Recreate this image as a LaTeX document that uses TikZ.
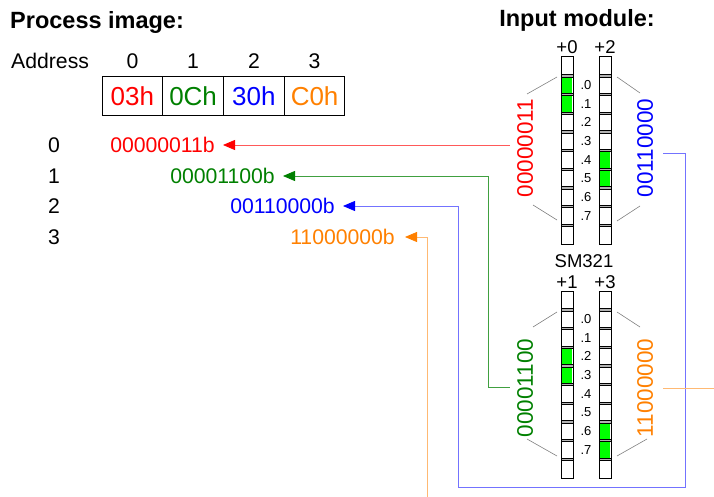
\documentclass[tikz,border=0pt]{standalone}
\usepackage{fontspec}
\setmainfont{Liberation Sans}
\usetikzlibrary{arrows.meta}
\definecolor{cred}{RGB}{255,0,0}
\definecolor{cgreen}{RGB}{0,128,0}
\definecolor{cblue}{RGB}{0,0,255}
\definecolor{corange}{RGB}{255,128,0}
\definecolor{led}{RGB}{0,255,0}
\newcommand\ledcol[4]{%
  \draw[line width=1pt,fill=white] (#1,#2) rectangle (#1+12,#2+187);
  \foreach \k in {#3,#4} \fill[led] (#1+1,#2+\k*18.7+1.5) rectangle (#1+11,#2+\k*18.7+17.2);
  \foreach \k in {1,...,9} \draw[sepbar] (#1,#2+\k*18.7-1.2) rectangle (#1+12,#2+\k*18.7+1.2);
}
\begin{document}
\begin{tikzpicture}[x=1pt,y=-1pt,
  title/.style={font=\fontsize{23.5}{26}\selectfont\bfseries,inner sep=0},
  lbl/.style={font=\fontsize{21.2}{24}\selectfont,inner sep=0},
  hexcell/.style={draw,line width=1pt,minimum width=60.75,minimum height=39,inner sep=0,font=\fontsize{26}{30}\selectfont},
  bin/.style={font=\fontsize{21.2}{24}\selectfont,inner sep=0,anchor=east},
  vbin/.style={font=\fontsize{22.5}{24}\selectfont,rotate=90,inner sep=0},
  bit/.style={font=\fontsize{13}{14}\selectfont,inner sep=0},
  hdr/.style={font=\fontsize{18.5}{20}\selectfont,inner sep=0},
  sepbar/.style={draw=black,fill=gray!60,line width=0.7pt},
  wire/.style={line width=0.8pt},
  gl/.style={draw=gray,line width=0.6pt}]
\useasboundingbox (0,0) rectangle (714,497);

% titles
\node[title,anchor=west] (pt) at (10,22) {Process image:};
\node[title] (it) at (577,20) {Input module:};

% address row
\node[lbl,anchor=west] (addr) at (11,61) {Address};
\node[lbl] (a0) at (132.4,61) {0};
\node[lbl] (a1) at (193.1,61) {1};
\node[lbl] (a2) at (253.9,61) {2};
\node[lbl] (a3) at (314.6,61) {3};
\node[hexcell,text=cred] (h0) at (132.4,96.5) {03h};
\node[hexcell,text=cgreen] (h1) at (193.1,96.5) {0Ch};
\node[hexcell,text=cblue] (h2) at (253.9,96.5) {30h};
\node[hexcell,text=corange] (h3) at (314.6,96.5) {C0h};

% rows
\node[lbl] (n0) at (54,145) {0};
\node[lbl] (n1) at (54,176) {1};
\node[lbl] (n2) at (54,206) {2};
\node[lbl] (n3) at (54,237) {3};
\node[bin,text=cred] (b0) at (215,145) {00000011b};
\node[bin,text=cgreen] (b1) at (275,176) {00001100b};
\node[bin,text=cblue] (b2) at (335,206) {00110000b};
\node[bin,text=corange] (b3) at (395,237) {11000000b};

% module columns
\ledcol{561}{57}{1}{2}
\ledcol{599}{57}{5}{6}
\ledcol{561}{291}{3}{4}
\ledcol{599}{291}{7}{8}
\foreach \k in {0,...,7} {
  \node[bit] (ta\k) at (586,{57+(\k+1.5)*18.7}) {.\k};
  \node[bit] (tb\k) at (586,{291+(\k+1.5)*18.7}) {.\k};
}
\node[hdr] (p0) at (567,47) {+0};
\node[hdr] (p2) at (605,47) {+2};
\node[hdr] (sm) at (584,261) {SM321};
\node[hdr] (p1) at (567,282) {+1};
\node[hdr] (p3) at (605,282) {+3};

% vertical binary
\node[vbin,text=cred] (v0) at (525,148) {00000011};
\node[vbin,text=cblue] (v2) at (645,148) {00110000};
\node[vbin,text=cgreen] (v1) at (525,388) {00001100};
\node[vbin,text=corange] (v3) at (645,388) {11000000};

% gray brackets
\draw[gl] (527,94) -- (557,77);
\draw[gl] (533,205) -- (557,220);
\draw[gl] (617,77) -- (640,93);
\draw[gl] (617,221) -- (640,206);
\draw[gl] (533,327) -- (557,312);
\draw[gl] (527,439) -- (557,456);
\draw[gl] (617,312) -- (640,327);
\draw[gl] (617,456) -- (647,439);

% connectors
\draw[wire,draw=cred!65,arrows={-{Triangle[length=12pt,width=10pt,color=cred]}}]
  ([xshift=-7pt]v0.north |- b0) -- ([xshift=8pt]b0.east);
\draw[wire,draw=cgreen!75,arrows={-{Triangle[length=12pt,width=10pt,color=cgreen]}}]
  ([xshift=-7pt]v1.north |- 0,387) -- (488,387) -- (488,0 |- b1) -- ([xshift=8pt]b1.east);
\draw[wire,draw=cblue!55,arrows={-{Triangle[length=12pt,width=10pt,color=cblue]}}]
  ([xshift=10pt]v2.south |- 0,153) -- (685,153) -- (685,487) -- (458,487) -- (458,0 |- b2) -- ([xshift=8pt]b2.east);
\coordinate (oe) at (714,388);
\coordinate (ob) at (427,497);
\draw[wire,draw=corange!55] ([xshift=10pt]v3.south |- oe) -- (oe);
\draw[wire,draw=corange!55,arrows={-{Triangle[length=12pt,width=10pt,color=corange]}}]
  (ob) -- (ob |- b3) -- ([xshift=10pt]b3.east);
\end{tikzpicture}
\end{document}
